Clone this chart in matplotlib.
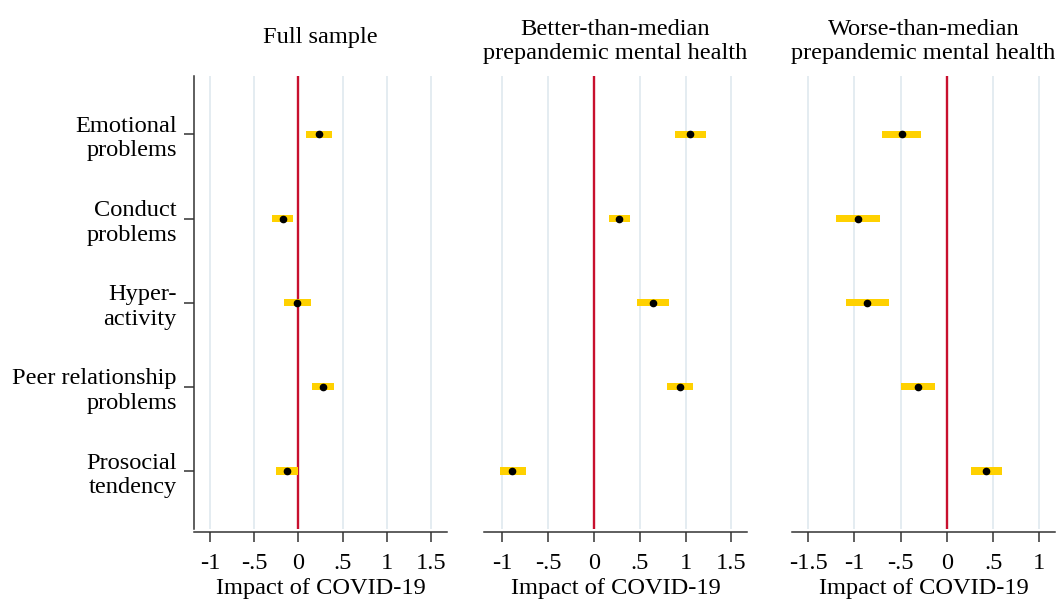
import matplotlib
matplotlib.use("Agg")
from matplotlib import pyplot as plt

plt.rcParams['font.family'] = ['Liberation Serif', 'DejaVu Serif']

# 数据: 点估计和置信区间
outcomes = ["Emotional\nproblems", "Conduct\nproblems", "Hyper-\nactivity",
            "Peer relationship\nproblems", "Prosocial\ntendency"]

titles = ["Full sample",
          "Better-than-median\nprepandemic mental health",
          "Worse-than-median\nprepandemic mental health"]

full_est = [0.237, -0.18, -0.015, 0.279, -0.132]
full_lo = [0.09, -0.297, -0.158, 0.154, -0.252]
full_hi = [0.384, -0.06, 0.136, 0.40, -0.008]

better_est = [1.049, 0.276, 0.639, 0.933, -0.89]
better_lo = [0.879, 0.163, 0.465, 0.792, -1.024]
better_hi = [1.22, 0.392, 0.813, 1.075, -0.744]

worse_est = [-0.488, -0.965, -0.861, -0.311, 0.426]
worse_lo = [-0.698, -1.197, -1.092, -0.496, 0.264]
worse_hi = [-0.275, -0.727, -0.626, -0.127, 0.592]

xticks_list = [[-1, -0.5, 0, 0.5, 1, 1.5],
               [-1, -0.5, 0, 0.5, 1, 1.5],
               [-1.5, -1, -0.5, 0, 0.5, 1]]
xlims = [(-1.18, 1.678), (-1.20, 1.67), (-1.676, 1.17)]
title_y = [1.084, 1.076, 1.076]

FS = 17.6


def fmt(v):
    s = "{:g}".format(v)
    return s.replace("0.", ".")


fig = plt.figure(figsize=(10.58, 6.01), dpi=100)
boxes = [[0.1834, 0.1198, 0.2391, 0.7537],
         [0.4575, 0.1198, 0.2486, 0.7537],
         [0.7486, 0.1198, 0.2486, 0.7537]]

panels = [(full_est, full_lo, full_hi),
          (better_est, better_lo, better_hi),
          (worse_est, worse_lo, worse_hi)]

y = list(range(1, len(outcomes) + 1))

for i in range(3):
    ax = fig.add_axes(boxes[i])
    est, lo, hi = panels[i]
    ticks = xticks_list[i]

    # 网格线
    for t in ticks:
        if t != 0:
            ax.axvline(t, color="#dfe9ef", lw=1.2, zorder=0)
    ax.axvline(0, color="#c8102e", lw=1.7, zorder=1)

    widths = [h - l for l, h in zip(lo, hi)]
    ax.barh(y, widths, left=lo, height=0.085, color="#ffd100", zorder=2)
    ax.plot(est, y, "o", color="black", markersize=4.5, zorder=3)

    ax.set_xlim(*xlims[i])
    ax.set_ylim(5.689, 0.307)
    ax.set_xticks(ticks)
    ax.set_xticklabels([fmt(t) for t in ticks])
    ax.tick_params(axis="x", direction="out", length=7.2, width=1.1,
                   color="#333333", labelsize=FS, pad=8)
    ax.set_xlabel("Impact of COVID-19", fontsize=FS, labelpad=3)

    ax.spines["top"].set_visible(False)
    ax.spines["right"].set_visible(False)
    ax.spines["bottom"].set_position(("outward", 2.2))
    ax.spines["bottom"].set_linewidth(1.1)
    ax.spines["bottom"].set_color("#333333")

    if i == 0:
        ax.set_yticks(y)
        ax.set_yticklabels(outcomes, fontsize=FS, linespacing=1.22)
        ax.tick_params(axis="y", direction="out", length=7.5, width=1.1,
                       color="#333333", pad=5)
        ax.spines["left"].set_linewidth(1.1)
        ax.spines["left"].set_color("#333333")
    else:
        ax.set_yticks([])
        ax.spines["left"].set_visible(False)

    ax.text(0.5, title_y[i], titles[i], transform=ax.transAxes, ha="center",
            va="center", fontsize=FS, linespacing=1.2)

plt.savefig("out.png", dpi=100)
